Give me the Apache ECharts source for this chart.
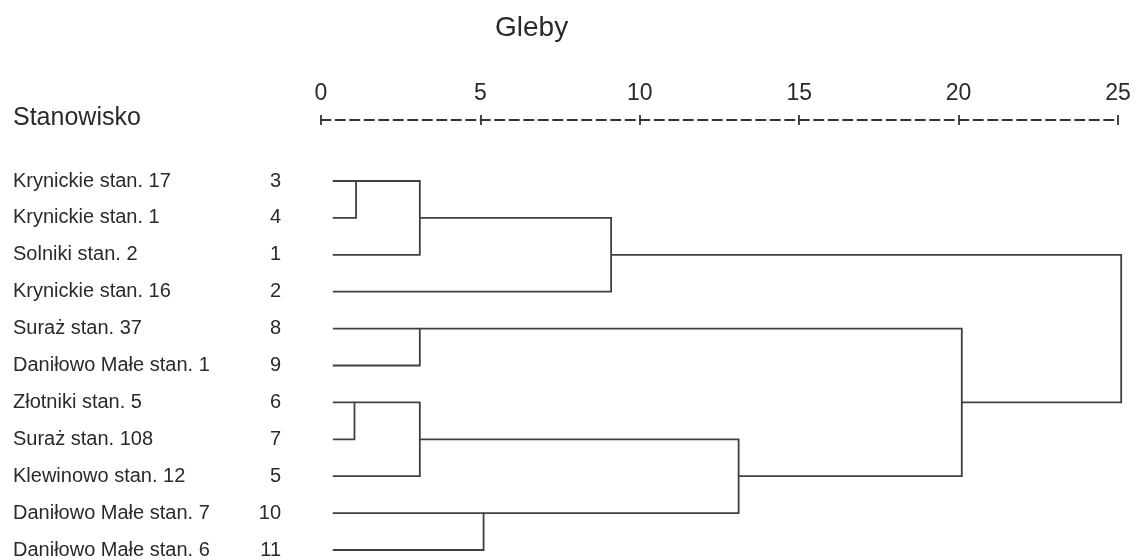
<!DOCTYPE html>
<html>
<head>
<meta charset="utf-8">
<script src="https://cdn.jsdelivr.net/npm/echarts@6/dist/echarts.min.js"></script>
<style>html,body{margin:0;padding:0;background:#fff}#c{width:1138px;height:560px}</style>
</head>
<body>
<div id="c"></div>
<script>
// Leaves in dendrogram order (top to bottom)
const leafLabels = ['Krynickie stan. 17','Krynickie stan. 1','Solniki stan. 2','Krynickie stan. 16','Suraż stan. 37','Daniłowo Małe stan. 1','Złotniki stan. 5','Suraż stan. 108','Klewinowo stan. 12','Daniłowo Małe stan. 7','Daniłowo Małe stan. 6'];
const caseNumbers = ['3','4','1','2','8','9','6','7','5','10','11'];
// Merges: [node A, node B, rescaled distance]; nodes 0..10 are leaves, 11.. are merges in order
const mergeA = [0, 11, 12, 4, 6, 15, 9, 16, 14, 13];
const mergeB = [1, 2, 3, 5, 7, 8, 10, 17, 18, 19];
const mergeH = [1.1, 3.1, 9.1, 3.1, 1.05, 3.1, 5.1, 13.1, 20.1, 25.1];
const axisTicks = [0, 5, 10, 15, 20, 25];
const leafStart = 0.37;

const n = leafLabels.length;
const nodeX = [], nodeY = [];
for (let i = 0; i < n; i++) { nodeX.push(leafStart); nodeY.push(i); }
const linesData = [];
for (let k = 0; k < mergeH.length; k++) {
  const a = mergeA[k], b = mergeB[k], h = mergeH[k];
  linesData.push({coords: [[nodeX[a], nodeY[a]], [h, nodeY[a]], [h, nodeY[b]], [nodeX[b], nodeY[b]]]});
  nodeX.push(h);
  nodeY.push(Math.floor((nodeY[a] + nodeY[b]) / 2));
}

const chart = echarts.init(document.getElementById('c'), null, {renderer: 'canvas'});
const txt = '#2a2a2a';
const font = 'Liberation Sans';
const baseX = {
  type: 'value', min: axisTicks[0], max: axisTicks[axisTicks.length - 1], interval: 5,
  position: 'top', offset: 61, splitLine: {show: false}
};
chart.setOption({
  animation: false,
  backgroundColor: '#fff',
  title: [
    {text: 'Gleby', left: 495, top: 14, padding: 0, textStyle: {fontFamily: font, fontSize: 28, fontWeight: 'normal', color: txt}},
    {text: 'Stanowisko', left: 13, top: 106, padding: 0, textStyle: {fontFamily: font, fontSize: 25, fontWeight: 'normal', color: txt}}
  ],
  grid: {left: 321, right: 20, top: 181, bottom: 8},
  xAxis: [
    Object.assign({}, baseX, {
      axisLine: {show: true, onZero: false, lineStyle: {color: '#333', width: 1.8, type: [9.5, 5], dashOffset: 0}},
      axisTick: {show: true, length: 5, lineStyle: {color: '#333', width: 1.8}},
      axisLabel: {show: true, margin: 15, fontFamily: font, fontSize: 23, color: txt,
        customValues: axisTicks}
    }),
    Object.assign({}, baseX, {
      axisLine: {show: false, onZero: false},
      axisTick: {show: true, inside: true, length: 5, lineStyle: {color: '#333', width: 1.8}},
      axisLabel: {show: false}
    })
  ],
  yAxis: [
    {type: 'value', min: 0, max: n - 1, inverse: true, show: false},
    {type: 'category', data: leafLabels, inverse: true, boundaryGap: false, position: 'left',
      axisLine: {show: false}, axisTick: {show: false}, splitLine: {show: false},
      axisLabel: {align: 'left', margin: 308, fontFamily: font, fontSize: 20, color: txt, interval: 0}},
    {type: 'category', data: caseNumbers, inverse: true, boundaryGap: false, position: 'left',
      axisLine: {show: false}, axisTick: {show: false}, splitLine: {show: false},
      axisLabel: {align: 'right', margin: 40, fontFamily: font, fontSize: 20, color: txt, interval: 0}}
  ],
  series: [{
    type: 'lines', coordinateSystem: 'cartesian2d', polyline: true, clip: false,
    xAxisIndex: 0, yAxisIndex: 0,
    lineStyle: {color: '#404040', width: 1.8, opacity: 1, join: 'miter'},
    data: linesData, silent: true
  }]
});
</script>
</body>
</html>
